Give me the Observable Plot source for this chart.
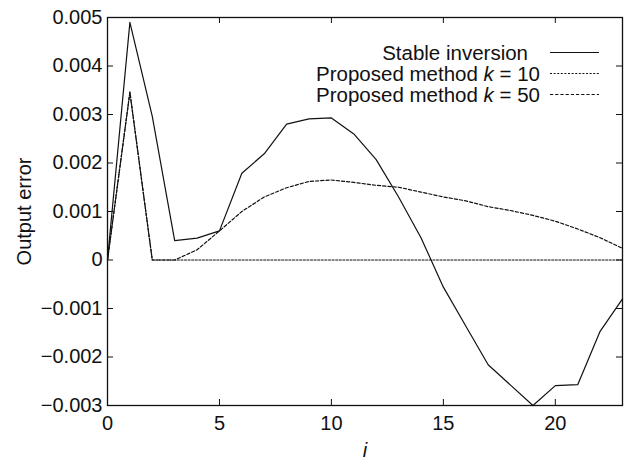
<!DOCTYPE html>
<html><head><meta charset="utf-8">
<script src="https://cdn.jsdelivr.net/npm/d3@7"></script>
<script src="https://cdn.jsdelivr.net/npm/@observablehq/plot@0.6"></script>
<style>body{margin:0;background:#fff} svg{display:block}</style>
</head><body><div id="chart"></div>
<script>
// ---- data ----
const steps = [0,1,2,3,4,5,6,7,8,9,10,11,12,13,14,15,16,17,18,19,20,21,22,23];
const stableInversion = [0, 0.0049, 0.00296, 0.0004, 0.00045, 0.0006, 0.00179, 0.00219, 0.0028, 0.00291, 0.00293, 0.0026, 0.00207, 0.0013, 0.00046, -0.00056, -0.00136, -0.00216, -0.00258, -0.003, -0.00259, -0.00257, -0.00147, -0.0008];
const proposedK10 = [0, 0.00346, 0, 0, 0, 0, 0, 0, 0, 0, 0, 0, 0, 0, 0, 0, 0, 0, 0, 0, 0, 0, 0, 0];
const proposedK50 = [0, 0.00346, 0, 0, 0.00021, 0.0006, 0.001, 0.0013, 0.00149, 0.00162, 0.00165, 0.0016, 0.00154, 0.0015, 0.0014, 0.0013, 0.00122, 0.0011, 0.00102, 0.00092, 0.0008, 0.00064, 0.00046, 0.00024];
const seriesNames = ["Stable inversion", "Proposed method k = 10", "Proposed method k = 50"];
const xTicks = [0, 5, 10, 15, 20];
const yTicks = [-0.003, -0.002, -0.001, 0, 0.001, 0.002, 0.003, 0.004, 0.005];
const xLabel = "i";
const yLabel = "Output error";

// ---- layout ----
const W = 626, H = 461, mL = 107, mR = 4, mT = 17, mB = 56;
const innerW = W - mL - mR, innerH = H - mT - mB;
const tickLen = 6;
const ink = "#111";
const dashes = [null, "2,1.6", "3.2,2"];

const toRows = vals => steps.map((s, j) => ({i: s, v: vals[j]}));
const fmtY = d => d === 0 ? "0" : (d < 0 ? "\u2212" : "") + Math.abs(d).toFixed(3);

const chart = Plot.plot({
  width: W, height: H,
  marginLeft: mL, marginRight: mR, marginTop: mT, marginBottom: mB,
  style: {fontFamily: "'Liberation Sans', Arial, sans-serif", fontSize: "20px", color: ink, background: "#fff"},
  x: {domain: [0, 23]},
  y: {domain: [-0.003, 0.005]},
  marks: [
    Plot.line(toRows(stableInversion), {x: "i", y: "v", stroke: ink, strokeWidth: 1.2}),
    Plot.line(toRows(proposedK10), {x: "i", y: "v", stroke: ink, strokeWidth: 1.2, strokeDasharray: dashes[1]}),
    Plot.line(toRows(proposedK50), {x: "i", y: "v", stroke: ink, strokeWidth: 1.2, strokeDasharray: dashes[2]}),
    Plot.ruleX(xTicks, {x: d => d, stroke: ink, insetTop: innerH - tickLen}),
    Plot.ruleX(xTicks, {x: d => d, stroke: ink, insetBottom: innerH - tickLen}),
    Plot.ruleY(yTicks, {y: d => d, stroke: ink, insetRight: innerW - tickLen}),
    Plot.ruleY(yTicks, {y: d => d, stroke: ink, insetLeft: innerW - tickLen}),
    Plot.frame({stroke: ink, strokeWidth: 1.3}),
    Plot.axisX(xTicks, {tickSize: 0, tickPadding: 10, label: null, fontSize: 20}),
    Plot.axisY(yTicks, {tickSize: 0, tickPadding: 5, label: null, tickFormat: fmtY, fontSize: 20}),
    Plot.text([xLabel], {text: d => d, frameAnchor: "bottom", dy: 45, lineAnchor: "middle", textAnchor: "middle", fontStyle: "italic", fontSize: 20}),
    Plot.text([yLabel], {text: d => d, frameAnchor: "left", dx: -83, rotate: -90, textAnchor: "middle", lineAnchor: "middle", fontSize: 20})
  ]
});

// ---- legend ----
const svg = d3.select(chart);
const lg = svg.append("g").attr("font-family", "'Liberation Sans', Arial, sans-serif").attr("font-size", 20.5).attr("fill", ink);
const textEnd = [528, 540, 540];
seriesNames.forEach((name, j) => {
  const y = 52.5 + 21 * j;
  const t = lg.append("text").attr("x", textEnd[j]).attr("y", y).attr("dy", "0.35em").attr("text-anchor", "end");
  const m = name.match(/^(.*?)k( = .*)$/);
  if (m) {
    t.append("tspan").text(m[1]);
    t.append("tspan").attr("font-style", "italic").text("k");
    t.append("tspan").text(m[2]);
  } else t.text(name);
  lg.append("line").attr("x1", 550).attr("x2", 599).attr("y1", y).attr("y2", y)
    .attr("stroke", ink).attr("stroke-width", 1.2).attr("stroke-dasharray", dashes[j]);
});

document.getElementById("chart").append(chart);
</script>
</body></html>
